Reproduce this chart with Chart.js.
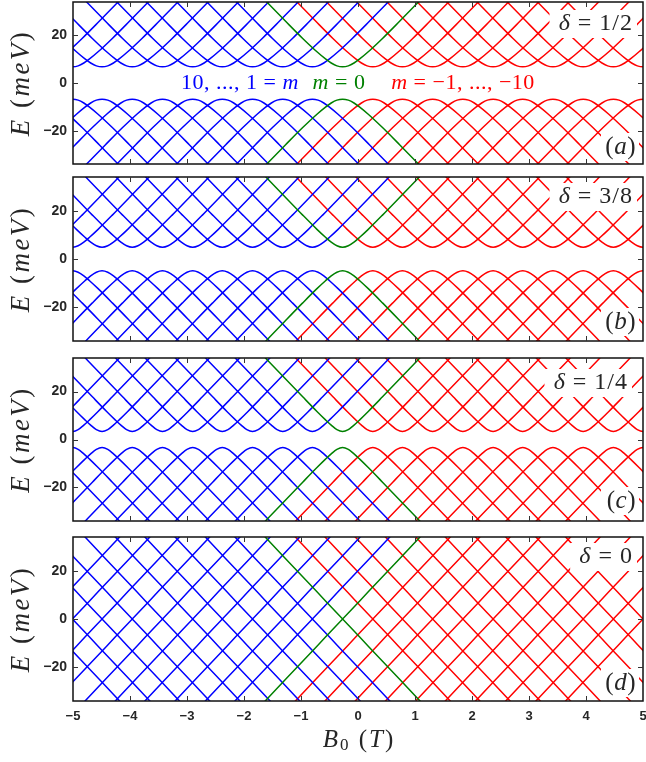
<!DOCTYPE html>
<html>
<head>
<meta charset="utf-8">
<script src="https://cdn.jsdelivr.net/npm/chart.js@4.4.1/dist/chart.umd.min.js"></script>
<style>
  html, body { margin: 0; padding: 0; background: #fff; }
  #wrap { position: relative; width: 646px; height: 762px; overflow: hidden; }
  #wrap canvas { position: absolute; left: 0; }
</style>
</head>
<body>
<div id="wrap">
  <canvas id="pa"></canvas>
  <canvas id="pb"></canvas>
  <canvas id="pc"></canvas>
  <canvas id="pd"></canvas>
</div>
<script>
// ---- data ----
// level index m and where its branches meet (B0 in T)
const mValues = [10, 9, 8, 7, 6, 5, 4, 3, 2, 1, 0, -1, -2, -3, -4, -5, -6, -7, -8, -9, -10];
const centers = [-5.54, -5.01, -4.49, -3.96, -3.43, -2.90, -2.38, -1.85, -1.32, -0.80, -0.27,
                 0.26, 0.78, 1.31, 1.84, 2.37, 2.89, 3.42, 3.95, 4.48, 5.00];
// distance from the branch centre (T) and |E| (meV) of one branch, per panel
const offsets = [0, 0.1, 0.2, 0.3, 0.45, 0.7, 1.0, 1.45];
const energyA = [6.8, 7.2, 8.4, 10.1, 13.1, 18.7, 25.9, 36.9];   // delta = 1/2
const energyB = [4.9, 5.5, 7.0, 9.0, 12.3, 18.2, 25.5, 36.6];    // delta = 3/8
const energyC = [3.3, 4.1, 6.0, 8.2, 11.7, 17.8, 25.2, 36.4];    // delta = 1/4
const energyD = [0, 2.5, 5.0, 7.5, 11.3, 17.5, 25.0, 36.3];      // delta = 0
const xTicks = [-5, -4, -3, -2, -1, 0, 1, 2, 3, 4, 5];
const yTicks = [-20, 0, 20];

const BLUE = "#0000ff", GREEN = "#008000", RED = "#ff0000";
const INK = "#262626";
const SERIF = '"Liberation Serif", "Times New Roman", serif';

// panel layout (pixels in the page)
const panels = [
  { id: "pa", top: 0,   h: 172, areaTop: 2,   areaBottom: 164, energy: energyA, smooth: true,
    delta: "1/2", letter: "a", deltaY: 24, deltaRight: 633, letterY: 147 },
  { id: "pb", top: 172, h: 176, areaTop: 177, areaBottom: 341, energy: energyB, smooth: true,
    delta: "3/8", letter: "b", deltaY: 197, deltaRight: 633, letterY: 322 },
  { id: "pc", top: 348, h: 180, areaTop: 358, areaBottom: 521, energy: energyC, smooth: true,
    delta: "1/4", letter: "c", deltaY: 383, deltaRight: 628, letterY: 501 },
  { id: "pd", top: 528, h: 234, areaTop: 537, areaBottom: 701, energy: energyD, smooth: false,
    delta: "0", letter: "d", deltaY: 557, deltaRight: 633, letterY: 683, showX: true }
];

// draw a row of text pieces, some italic (math style)
function drawRuns(ctx, runs, x, y, size, color, align, spacing) {
  ctx.save();
  ctx.letterSpacing = (spacing || 0) + "px";
  ctx.textBaseline = "middle";
  ctx.textAlign = "left";
  const fonts = runs.map(r => (r[1] ? "italic " : "") + (r[2] || size) + "px " + SERIF);
  let w = 0;
  runs.forEach((r, i) => { ctx.font = fonts[i]; w += ctx.measureText(r[0]).width; });
  let cx = align === "right" ? x - w : align === "center" ? x - w / 2 : x;
  ctx.fillStyle = color;
  runs.forEach((r, i) => {
    ctx.font = fonts[i];
    ctx.fillText(r[0], cx, y + (r[3] || 0));
    cx += ctx.measureText(r[0]).width;
  });
  ctx.restore();
  return w;
}

function fmtTick(v) {
  return v < 0 ? "\u2212" + Math.abs(v) : String(v);
}

const frame = {
  id: "frame",
  afterDatasetsDraw(chart, args, opts) {
    const p = opts.panel;
    const ctx = chart.ctx;
    const a = chart.chartArea;
    const xs = chart.scales.x, ys = chart.scales.y;
    const off = p.top;

    // white boxes with the delta value and panel letter
    ctx.save();
    const dRuns = [["\u03b4", true], [" = " + p.delta, false]];
    ctx.font = "24px " + SERIF;
    ctx.letterSpacing = "1px";
    const dW = ctx.measureText("\u03b4 = " + p.delta).width + 4;
    ctx.fillStyle = "#fff";
    ctx.fillRect(p.deltaRight - dW - 5, p.deltaY - off - 14, dW + 9, 28);
    const lW = 32;
    ctx.fillRect(636 - lW - 3, p.letterY - off - 14, lW + 6, 28);
    ctx.restore();
    drawRuns(ctx, dRuns, p.deltaRight, p.deltaY - off, 24, INK, "right", 1);
    drawRuns(ctx, [["(", false], [p.letter, true], [")", false]], 636, p.letterY - off, 25, INK, "right", 0.5);

    // frame and inward ticks on all four sides
    ctx.save();
    ctx.strokeStyle = "#111";
    ctx.lineWidth = 1.5;
    ctx.strokeRect(a.left, a.top, a.right - a.left, a.bottom - a.top);
    ctx.lineWidth = 1;
    ctx.strokeStyle = "#333";
    ctx.beginPath();
    xTicks.slice(1, -1).forEach(v => {
      const px = Math.round(xs.getPixelForValue(v)) + 0.5;
      ctx.moveTo(px, a.bottom); ctx.lineTo(px, a.bottom - 5);
      ctx.moveTo(px, a.top); ctx.lineTo(px, a.top + 5);
    });
    yTicks.forEach(v => {
      const py = Math.round(ys.getPixelForValue(v)) + 0.5;
      ctx.moveTo(a.left, py); ctx.lineTo(a.left + 5, py);
      ctx.moveTo(a.right, py); ctx.lineTo(a.right - 5, py);
    });
    ctx.stroke();
    ctx.restore();

    // axis titles
    ctx.save();
    ctx.translate(22, (a.top + a.bottom) / 2);
    ctx.rotate(-Math.PI / 2);
    drawRuns(ctx, [["E", true], [" (", false], ["meV", true], [")", false]], 0, 0, 27, INK, "center", 2.5);
    ctx.restore();

    if (p.showX) {
      drawRuns(ctx, [["B", true], ["0", false, 17, 6], [" (", false], ["T", true], [")", false]],
        359, 740 - off, 25, INK, "center", 2);
    }

    // level labels in the top panel
    if (p.letter === "a") {
      const yy = ys.getPixelForValue(0);
      drawRuns(ctx, [["10, ..., 1 = ", false], ["m", true]], 240, yy, 22, BLUE, "center", 0.5);
      drawRuns(ctx, [["m", true], [" = 0", false]], 339, yy, 22, GREEN, "center", 0.5);
      drawRuns(ctx, [["m", true], [" = \u22121, ..., \u221210", false]], 463, yy, 22, RED, "center", 0.5);
    }
  }
};

function makePanel(p) {
  const cv = document.getElementById(p.id);
  cv.width = 646; cv.height = p.h;
  cv.style.width = "646px"; cv.style.height = p.h + "px";
  cv.style.top = p.top + "px";

  // full branch: mirror the half shape around its centre
  const dx = offsets.slice(1).reverse().map(v => -v).concat(offsets);
  const e = p.energy.slice(1).reverse().concat(p.energy);

  const datasets = [];
  mValues.forEach((m, i) => {
    const col = m > 0 ? BLUE : (m === 0 ? GREEN : RED);
    [1, -1].forEach(sign => {
      datasets.push({
        data: dx.map((d, k) => ({ x: centers[i] + d, y: sign * e[k] })),
        borderColor: col,
        borderWidth: 1.5,
        pointRadius: 0,
        fill: false,
        cubicInterpolationMode: p.smooth ? "monotone" : "default",
        tension: 0,
        clip: 0,
        order: m === 0 ? 0 : 1
      });
    });
  });

  new Chart(cv, {
    type: "line",
    data: { datasets: datasets },
    options: {
      responsive: false,
      animation: false,
      devicePixelRatio: 1,
      events: [],
      layout: { padding: { top: p.areaTop - p.top, right: 3, left: 0, bottom: 0 } },
      plugins: { legend: { display: false }, tooltip: { enabled: false }, frame: { panel: p } },
      scales: {
        x: {
          type: "linear", min: -5, max: 5,
          grid: { display: false, drawTicks: false }, border: { display: false },
          afterBuildTicks: s => { s.ticks = xTicks.map(v => ({ value: v })); },
          afterFit: s => {
            s.height = p.top + p.h - p.areaBottom;
            s.paddingLeft = 0; s.paddingRight = 0;
          },
          ticks: {
            display: !!p.showX, padding: 8, maxRotation: 0, autoSkip: false,
            color: INK, font: { family: '"Liberation Sans", Arial, sans-serif', size: 13, weight: "bold" },
            callback: v => fmtTick(v)
          }
        },
        y: {
          type: "linear", min: -34, max: 34,
          grid: { display: false, drawTicks: false }, border: { display: false },
          afterBuildTicks: s => { s.ticks = yTicks.map(v => ({ value: v })); },
          afterFit: s => {
            s.width = 73;
            s.paddingTop = 0; s.paddingBottom = 0;
          },
          ticks: {
            padding: 6, color: INK,
            font: { family: '"Liberation Sans", Arial, sans-serif', size: 14, weight: "bold" },
            callback: v => fmtTick(v)
          }
        }
      }
    },
    plugins: [frame]
  });
}

panels.forEach(makePanel);
</script>
</body>
</html>
